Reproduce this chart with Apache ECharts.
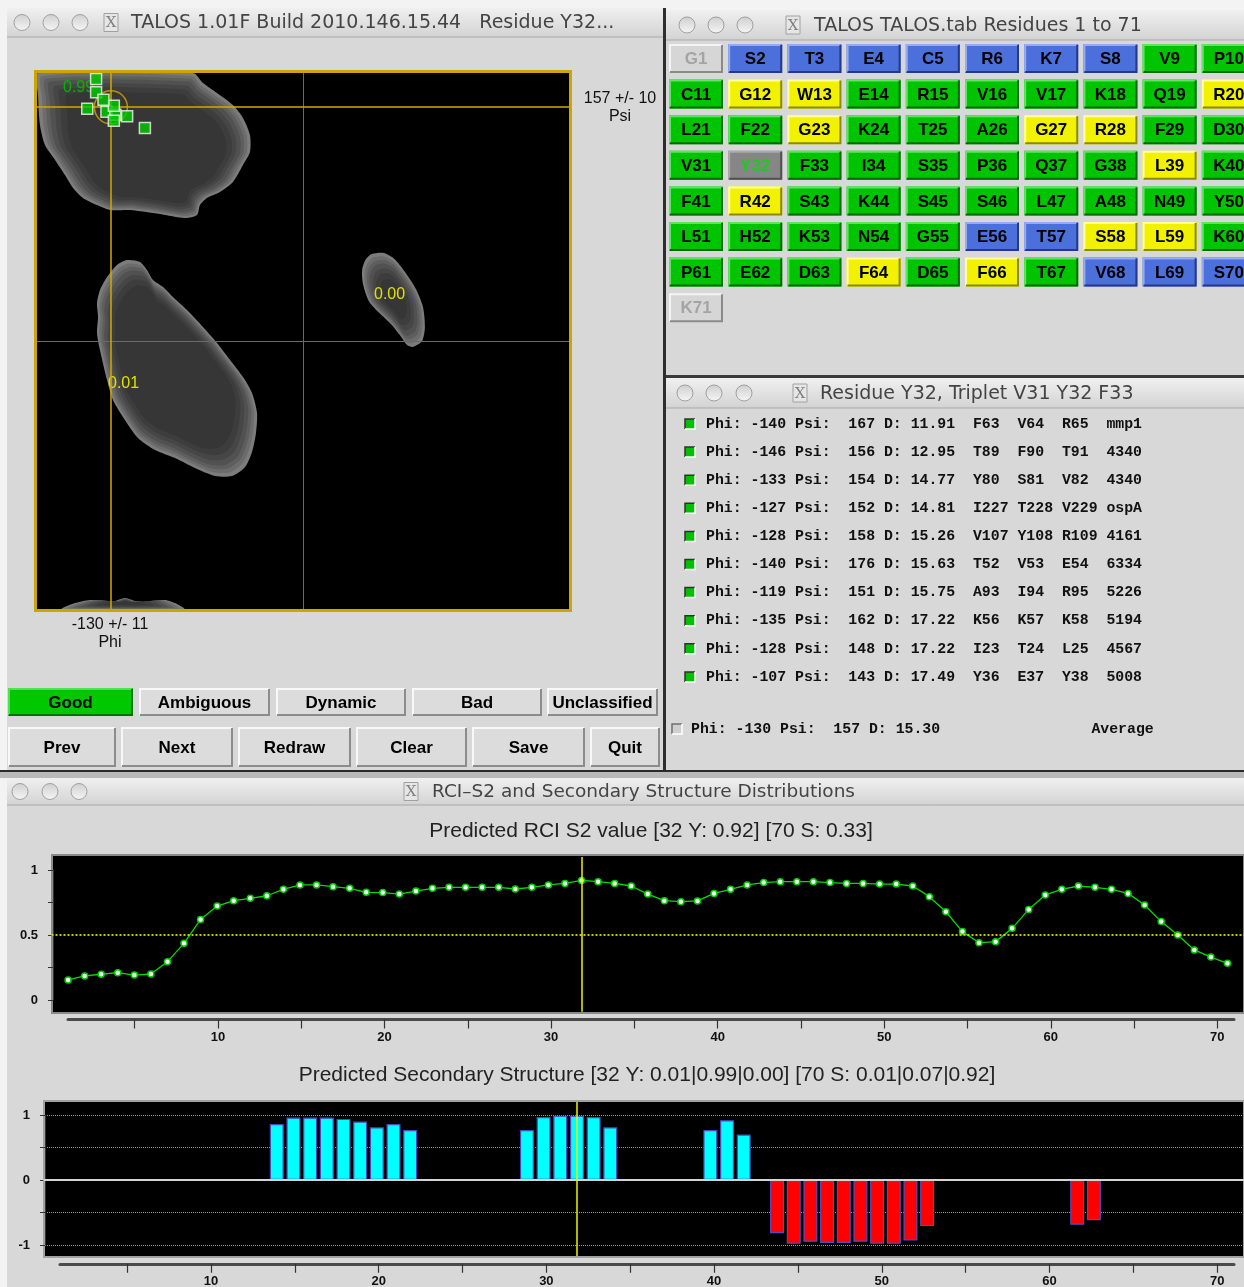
<!DOCTYPE html>
<html>
<head>
<meta charset="utf-8">
<title>TALOS</title>
<script src="https://cdn.jsdelivr.net/npm/echarts@6.0.0/dist/echarts.min.js"></script>
<style>
html,body{margin:0;padding:0;background:#f3f3f3;}
#chart{width:1244px;height:1287px;}
</style>
</head>
<body>
<div id="chart"></div>
<script>
// ---------------- data ----------------
const residueSeq = 'GSTECRKSVP' + 'CGWERVVKQR' + 'LFGKTAGRFD' + 'VYFISPQGLK' + 'FRSKSSLANY' + 'LHKNGETSLK' + 'PEDFDFTVLS' + 'K';
const residueClass = 'nbbbbbbbgg' + 'gyyggggggy' + 'ggygggyygg' + 'gsggggggyg' + 'gygggggggg' + 'gggggbbyyg' + 'gggygygbbb' + 'n';

const matchPhi = [-140, -146, -133, -127, -128, -140, -119, -135, -128, -107];
const matchPsi = [167, 156, 154, 152, 158, 176, 151, 162, 148, 143];
const matchD = ['11.91', '12.95', '14.77', '14.81', '15.26', '15.63', '15.75', '17.22', '17.22', '17.49'];
const matchTriplet = [['F63','V64','R65'],['T89','F90','T91'],['Y80','S81','V82'],['I227','T228','V229'],['V107','Y108','R109'],['T52','V53','E54'],['A93','I94','R95'],['K56','K57','K58'],['I23','T24','L25'],['Y36','E37','Y38']];
const matchSource = ['mmp1', '4340', '4340', 'ospA', '4161', '6334', '5226', '5194', '4567', '5008'];
const avgPhi = -130, avgPsi = 157, avgD = '15.30', phiErr = 11, psiErr = 10;

// density regions, [phi, psi]
const betaRegion = [[-179.3,180],[-74.4,180],[-67.7,173.3],[-58.2,166.6],[-47.4,158.5],[-40.6,149.8],[-35.9,138.4],[-35.9,126.9],[-40.6,118.2],[-47.4,106.8],[-56.2,100.1],[-65.0,96.1],[-69.7,91.3],[-71.7,84.6],[-79.8,82.6],[-96.8,85.3],[-117.1,88.0],[-130.6,88.0],[-139.4,91.3],[-148.9,96.1],[-155.6,102.8],[-161.1,111.5],[-167.8,121.6],[-174.6,131.6],[-178.0,145.1],[-179.3,165.2]];
const betaWrapRegion = [[-163.1,-180],[-154.3,-176.0],[-144.1,-173.9],[-134.0,-174.6],[-127.2,-174.6],[-120.4,-172.6],[-113.7,-174.6],[-103.5,-175.3],[-93.4,-173.9],[-86.6,-176.0],[-80.5,-180]];
const alphaRRegion = [[-119.1,54.4],[-110.3,53.1],[-105.6,47.7],[-101.5,41.0],[-94.7,36.3],[-88.0,29.6],[-78.5,20.8],[-67.7,9.4],[-58.2,-1.3],[-49.4,-12.7],[-40.6,-24.2],[-34.5,-34.9],[-31.1,-48.3],[-31.8,-61.8],[-34.5,-74.5],[-39.2,-84.6],[-48.0,-90.7],[-59.5,-90.7],[-73.1,-85.3],[-86.6,-78.6],[-100.1,-73.2],[-111.7,-65.1],[-120.5,-53.0],[-128.6,-39.6],[-132.6,-26.2],[-137.4,-6.0],[-139.4,5.4],[-138.7,16.1],[-139.4,25.5],[-137.4,34.3],[-132.6,43.0],[-125.9,51.1]];
const alphaLRegion = [[46.5,58.4],[54.1,59.2],[61.5,55.4],[69.0,46.4],[76.4,35.0],[81.2,22.9],[82.5,9.4],[80.6,0.0],[74.4,-4.0],[70.4,-2.7],[66.5,2.7],[59.5,11.4],[51.0,19.5],[44.5,26.9],[40.6,38.3],[40.0,47.7],[42.6,55.0]];
const regionLabels = ['0.99', '0.00', '0.01'];

const s2Values = [0.154,0.185,0.198,0.21,0.192,0.2,0.295,0.436,0.62,0.723,
  0.764,0.782,0.802,0.851,0.885,0.885,0.872,0.859,0.828,0.826,
  0.815,0.838,0.859,0.867,0.867,0.867,0.867,0.854,0.867,0.885,
  0.897,0.92,0.91,0.897,0.877,0.815,0.764,0.756,0.762,0.82,
  0.851,0.885,0.903,0.91,0.91,0.91,0.903,0.897,0.897,0.892,
  0.892,0.877,0.795,0.679,0.526,0.44,0.449,0.551,0.697,0.808,
  0.851,0.877,0.867,0.851,0.82,0.731,0.603,0.5,0.385,0.33,0.282];
const resTicks = [5,10,15,20,25,30,35,40,45,50,55,60,65,70];
const resLabels = [10,20,30,40,50,60,70];
const strandRes = [14,15,16,17,18,19,20,21,22,29,30,31,32,33,34,40,41,42];
const strandProb = [0.86,0.96,0.96,0.96,0.94,0.9,0.81,0.86,0.77,0.77,0.97,0.99,0.99,0.97,0.81,0.77,0.92,0.7];
const helixRes = [44,45,46,47,48,49,50,51,52,53,62,63];
const helixProb = [0.82,0.98,0.95,0.97,0.97,0.95,0.98,0.98,0.93,0.71,0.69,0.62];

const s2Title = 'Predicted RCI S2 value [32 Y: 0.92] [70 S: 0.33]';
const ssTitle = 'Predicted Secondary Structure [32 Y: 0.01|0.99|0.00] [70 S: 0.01|0.07|0.92]';
const selectedResidue = 32;
const classButtons = ['Good', 'Ambiguous', 'Dynamic', 'Bad', 'Unclassified'];
const navButtons = ['Prev', 'Next', 'Redraw', 'Clear', 'Save', 'Quit'];

// ---------------- GUI drawing helpers ----------------
const G = [];
const SANS = '"Liberation Sans", Arial, sans-serif';
function rect(x, y, w, h, fill, z, stroke, lw) {
  G.push({type: 'rect', silent: true, z: z || 0, shape: {x, y, width: w, height: h},
    style: {fill: fill, stroke: stroke || null, lineWidth: lw || 0}});
}
function pline(points, stroke, lw, z) {
  G.push({type: 'polyline', silent: true, z: z || 0, shape: {points},
    style: {stroke, lineWidth: lw, fill: null}});
}
function txt(x, y, s, font, color, align, z) {
  G.push({type: 'text', silent: true, z: z || 1, x, y,
    style: {text: s, font, fill: color, align: align || 'left', verticalAlign: 'middle',
      textAlign: align || 'left', textVerticalAlign: 'middle'}});
}
function bevel(x, y, w, h, fill, light, dark, label, tcolor, font) {
  rect(x, y, w, h, fill, 1);
  pline([[x + 1, y + h - 1], [x + 1, y + 1], [x + w - 1, y + 1]], light, 2, 1);
  pline([[x + 1, y + h - 1], [x + w - 1, y + h - 1], [x + w - 1, y + 1]], dark, 2, 1);
  txt(x + w / 2, y + h / 2 + 1, label, font, tcolor, 'center', 2);
}
function titleBar(x, y, w, h, circles, xIcon, title, titleX, fontSize) {
  rect(x, y, w, h, {type: 'linear', x: 0, y: 0, x2: 0, y2: 1,
    colorStops: [{offset: 0, color: '#f0f0f0'}, {offset: 1, color: '#d3d3d3'}]}, 0);
  pline([[x, y + h], [x + w, y + h]], '#a8a8a8', 1, 0);
  const cy = y + h / 2;
  circles.forEach(cx => G.push({type: 'circle', silent: true, z: 1, shape: {cx, cy, r: 8},
    style: {fill: {type: 'linear', x: 0, y: 0, x2: 0, y2: 1,
      colorStops: [{offset: 0, color: '#cfcfcf'}, {offset: 1, color: '#f6f6f6'}]},
      stroke: '#a0a0a0', lineWidth: 1}}));
  rect(xIcon - 7, cy - 9, 14, 18, '#e6e6e6', 1, '#a0a0a0', 1);
  txt(xIcon, cy + 1, 'X', '15px "DejaVu Serif", serif', '#808080', 'center', 2);
  txt(titleX, cy + 1, title, fontSize + 'px "DejaVu Sans", sans-serif', '#444444', 'left', 2);
}

// page & windows
rect(7, 8, 656, 762, '#d8d8d8', 0);
rect(666, 10, 578, 365, '#d8d8d8', 0);
rect(666, 378, 578, 392, '#d8d8d8', 0);
rect(7, 778, 1237, 509, '#d8d8d8', 0);
rect(663, 8, 3, 762, '#2e2e2e', 0);
rect(666, 375, 578, 3, '#3a3a3a', 0);
rect(0, 770, 1244, 8, '#b9b9b9', 0);
pline([[0, 771], [1244, 771]], '#2a2a2a', 2, 0);

titleBar(7, 8, 656, 29, [22, 51, 80], 111, 'TALOS 1.01F Build 2010.146.15.44   Residue Y32...', 131, 19);
titleBar(666, 10, 578, 30, [687, 716, 745], 793, 'TALOS TALOS.tab Residues 1 to 71', 814, 19);
titleBar(666, 378, 578, 30, [685, 714, 744], 800, 'Residue Y32, Triplet V31 Y32 F33', 820, 19);
titleBar(7, 778, 1237, 27, [20, 50, 79], 411, 'RCI\u2013S2 and Secondary Structure Distributions', 432, 18.5);

// residue buttons
const BTN = {
  n: ['#d6d6d6', '#f4f4f4', '#8a8a8a', '#a4a4a4'],
  b: ['#4b6fdb', '#93abf2', '#25398a', '#000000'],
  g: ['#00c400', '#60e460', '#006a00', '#000000'],
  y: ['#f2f200', '#ffffa0', '#8a8a00', '#000000'],
  s: ['#868686', '#ababab', '#505050', '#20c820']
};
for (let i = 0; i < residueSeq.length; i++) {
  const col = i % 10, row = Math.floor(i / 10);
  const c = BTN[residueClass[i]];
  bevel(669 + col * 59.2, 44 + row * 35.6, 54, 29, c[0], c[1], c[2],
    residueSeq[i] + (i + 1), c[3], 'bold 17px ' + SANS);
}

// classification + navigation buttons
const classX = [[8, 125], [139, 131], [276, 130], [412, 130], [547, 111]];
classButtons.forEach((b, i) => {
  const good = i === 0;
  bevel(classX[i][0], 688, classX[i][1], 28, good ? '#00c800' : '#dcdcdc', good ? '#50e050' : '#f8f8f8',
    good ? '#007000' : '#8c8c8c', b, '#000', 'bold 17px ' + SANS);
});
const navX = [[8, 108], [121, 112], [238, 113], [356, 111], [472, 113], [590, 70]];
navButtons.forEach((b, i) => bevel(navX[i][0], 727, navX[i][1], 40, '#dcdcdc', '#f8f8f8', '#8c8c8c', b, '#000', 'bold 17px ' + SANS));

// Ramachandran annotations
txt(620, 99, avgPsi + ' +/- ' + psiErr, '16px ' + SANS, '#111', 'center', 2);
txt(620, 117, 'Psi', '16px ' + SANS, '#111', 'center', 2);
txt(110, 625, avgPhi + ' +/- ' + phiErr, '16px ' + SANS, '#111', 'center', 2);
txt(110, 643, 'Phi', '16px ' + SANS, '#111', 'center', 2);
rect(37, 73, 532, 536, '#000000', 1);
G.push({type: 'rect', silent: true, z: 10, shape: {x: 35.5, y: 71.5, width: 535, height: 539},
  style: {fill: null, stroke: '#cda400', lineWidth: 3}});
txt(63, 88, regionLabels[0], '16px ' + SANS, '#00b400', 'left', 4);
txt(374, 295, regionLabels[1], '16px ' + SANS, '#e0e000', 'left', 4);
txt(108, 384, regionLabels[2], '16px ' + SANS, '#e0e000', 'left', 4);

// match list
const MONO = 'bold 14.83px "Liberation Mono", "DejaVu Sans Mono", monospace';
function checkbox(x, y, on) {
  rect(x, y - 5, 10, 10, on ? '#00c000' : '#cfcfcf', 1);
  pline([[x, y + 5], [x, y - 5], [x + 10, y - 5]], on ? '#303030' : '#707070', 1.5, 2);
  pline([[x, y + 5], [x + 10, y + 5], [x + 10, y - 5]], '#ffffff', 1.5, 2);
}
for (let i = 0; i < matchPhi.length; i++) {
  const y = 424 + i * 28.1;
  const s = 'Phi: ' + String(matchPhi[i]).padStart(4) + ' Psi: ' + String(matchPsi[i]).padStart(4) +
    ' D: ' + matchD[i] + '  ' + matchTriplet[i].map(t => t.padEnd(4)).join(' ') + ' ' + matchSource[i];
  checkbox(685, y, true);
  txt(706, y, s, MONO, '#111', 'left', 2);
}
checkbox(672, 729, false);
txt(691, 729, ('Phi: ' + String(avgPhi).padStart(4) + ' Psi: ' + String(avgPsi).padStart(4) + ' D: ' + avgD).padEnd(45) + 'Average', MONO, '#111', 'left', 2);

// chart titles and plot backgrounds
txt(651, 831, s2Title, '21px ' + SANS, '#222', 'center', 2);
txt(647, 1075, ssTitle, '21px ' + SANS, '#222', 'center', 2);
rect(52, 855, 1192, 158, '#000000', 1, '#8a8a8a', 2);
rect(44, 1101, 1200, 156, '#000000', 1, '#a0a0a0', 2);

// ---------------- chart ----------------
const AX_LABEL = {fontWeight: 'bold', fontSize: 13, fontFamily: SANS, color: '#111'};
const hiddenX = (g, min, max) => ({type: 'value', gridIndex: g, min, max, show: false});
const hiddenY = (g, min, max) => ({type: 'value', gridIndex: g, min, max, show: false});
const resAxis = (g) => ({type: 'value', gridIndex: g, min: 1, max: 71, z: 2, position: 'bottom',
  axisLine: {show: true, lineStyle: {color: '#4a4a4a', width: 3}},
  axisTick: {show: true, customValues: resTicks, length: 9, lineStyle: {color: '#333', width: 1.2}},
  axisLabel: Object.assign({show: true, customValues: resLabels, margin: 11}, AX_LABEL),
  splitLine: {show: false}});

const regions = [betaRegion, betaWrapRegion, alphaRRegion, alphaLRegion];
// inset distance in px and fill colour for each density shading level
const shadeInset = [0, 3, 6, 9, 13, 17, 22];
const shadeColor = ['#7c7c7c', '#6c6c6c', '#5e5e5e', '#515151', '#464646', '#3d3d3d', '#363636'];
const noMark = {symbol: ['none', 'none'], silent: true, label: {show: false}, animation: false};

const option = {
  animation: false,
  backgroundColor: '#f3f3f3',
  graphic: {elements: G},
  grid: [
    {left: 37, top: 73, width: 532, height: 536},
    {left: 51.5, top: 857, width: 1199.3, height: 154.7},
    {left: 53, top: 870, width: 1191, height: 130},
    {left: 68, top: 1018.5, width: 1166, height: 1},
    {left: 43.3, top: 1102, width: 1207.4, height: 154},
    {left: 45, top: 1115, width: 1199, height: 130},
    {left: 60, top: 1263.5, width: 1174, height: 1}
  ],
  xAxis: [
    hiddenX(0, -180, 180), hiddenX(1, 0, 72), hiddenX(2, 0, 1), resAxis(3),
    hiddenX(4, 0, 72), hiddenX(5, 0, 1), resAxis(6)
  ],
  yAxis: [
    hiddenY(0, -180, 180), hiddenY(1, -0.09, 1.1),
    {type: 'value', gridIndex: 2, min: 0, max: 1, interval: 0.25, offset: 6, z: 2,
      axisLine: {show: true, lineStyle: {color: '#333', width: 1}},
      axisTick: {show: true, length: 5, lineStyle: {color: '#333'}},
      axisLabel: Object.assign({margin: 9, formatter: v => (v === 0 || v === 0.5 || v === 1) ? String(v) : ''}, AX_LABEL),
      splitLine: {show: false}},
    hiddenY(3, 0, 1), hiddenY(4, -1.17, 1.2),
    {type: 'value', gridIndex: 5, min: -1, max: 1, interval: 0.5, offset: 6, z: 2,
      axisLine: {show: true, lineStyle: {color: '#333', width: 1}},
      axisTick: {show: true, length: 5, lineStyle: {color: '#333'}},
      axisLabel: Object.assign({margin: 9, formatter: v => Number.isInteger(v) ? String(v) : ''}, AX_LABEL),
      splitLine: {show: true, lineStyle: {color: '#9a9a9a', type: 'dotted', width: 1}}},
    hiddenY(6, 0, 1)
  ],
  series: [
    {type: 'custom', xAxisIndex: 0, yAxisIndex: 0, z: 3, clip: true, silent: true,
      data: regions.map(r => r[0]),
      renderItem: (params, api) => {
        const pts = regions[params.dataIndex].map(p => api.coord(p));
        let cx = 0, cy = 0;
        pts.forEach(p => { cx += p[0]; cy += p[1]; });
        cx /= pts.length; cy /= pts.length;
        let r = 0;
        pts.forEach(p => { r += Math.hypot(p[0] - cx, p[1] - cy); });
        r /= pts.length;
        return {type: 'group', children: shadeInset.map((d, k) => {
          const s = Math.max(0.2, 1 - d / r);
          return {type: 'polygon',
            shape: {points: pts.map(p => [cx + (p[0] - cx) * s, cy + (p[1] - cy) * s]), smooth: 0.25},
            style: {fill: shadeColor[k]}};
        })};
      }},
    {type: 'line', xAxisIndex: 0, yAxisIndex: 0, z: 4, data: [],
      markLine: Object.assign({data: [{xAxis: 0}, {yAxis: 0}], lineStyle: {color: '#6a6a6a', width: 1, type: 'solid'}}, noMark)},
    {type: 'line', xAxisIndex: 0, yAxisIndex: 0, z: 4, data: [],
      markLine: Object.assign({data: [{xAxis: avgPhi}, {yAxis: avgPsi}], lineStyle: {color: '#d2a800', width: 1.5, type: 'solid'}}, noMark)},
    {type: 'scatter', xAxisIndex: 0, yAxisIndex: 0, z: 5, silent: true,
      data: [[avgPhi, avgPsi]], symbol: 'circle', symbolSize: 33,
      itemStyle: {color: 'rgba(0,0,0,0)', borderColor: '#d2a800', borderWidth: 1.5}},
    {type: 'scatter', xAxisIndex: 0, yAxisIndex: 0, z: 6, silent: true,
      data: matchPhi.map((p, i) => [p, matchPsi[i]]), symbol: 'rect', symbolSize: 11,
      itemStyle: {color: '#00cc00', borderColor: '#f4f4f4', borderWidth: 1.5}},

    {type: 'line', xAxisIndex: 1, yAxisIndex: 1, z: 3, data: [],
      markLine: Object.assign({data: [{yAxis: 0.5, lineStyle: {color: '#f2f200', width: 1.6, type: [2, 2]}},
        {xAxis: selectedResidue, lineStyle: {color: '#f2f200', width: 1.5, type: 'solid'}}]}, noMark)},
    {type: 'line', xAxisIndex: 1, yAxisIndex: 1, z: 4, silent: true,
      data: s2Values.map((v, i) => [i + 1, v]),
      lineStyle: {color: '#00dc00', width: 1.3},
      symbol: 'circle', symbolSize: 6, showSymbol: true,
      itemStyle: {color: '#f4fff4', borderColor: '#00cc00', borderWidth: 1.5}},

    {type: 'bar', xAxisIndex: 4, yAxisIndex: 4, z: 4, silent: true, barWidth: 14, barGap: '-100%',
      data: strandRes.map((r, i) => [r, strandProb[i]]),
      itemStyle: {color: '#00ffff', borderColor: '#4a4ac0', borderWidth: 1.2}},
    {type: 'bar', xAxisIndex: 4, yAxisIndex: 4, z: 4, silent: true, barWidth: 14, barGap: '-100%',
      data: helixRes.map((r, i) => [r, -helixProb[i]]),
      itemStyle: {color: '#ff0000', borderColor: '#5a4ac0', borderWidth: 1.2}},
    {type: 'line', xAxisIndex: 4, yAxisIndex: 4, z: 5, data: [],
      markLine: Object.assign({data: [{yAxis: 0, lineStyle: {color: '#d4d4d4', width: 2, type: 'solid'}},
        {xAxis: selectedResidue, lineStyle: {color: '#f2f200', width: 1.5, type: 'solid'}}]}, noMark)}
  ]
};
const chart = echarts.init(document.getElementById('chart'), null, {renderer: 'canvas'});
chart.setOption(option);
</script>
</body>
</html>
